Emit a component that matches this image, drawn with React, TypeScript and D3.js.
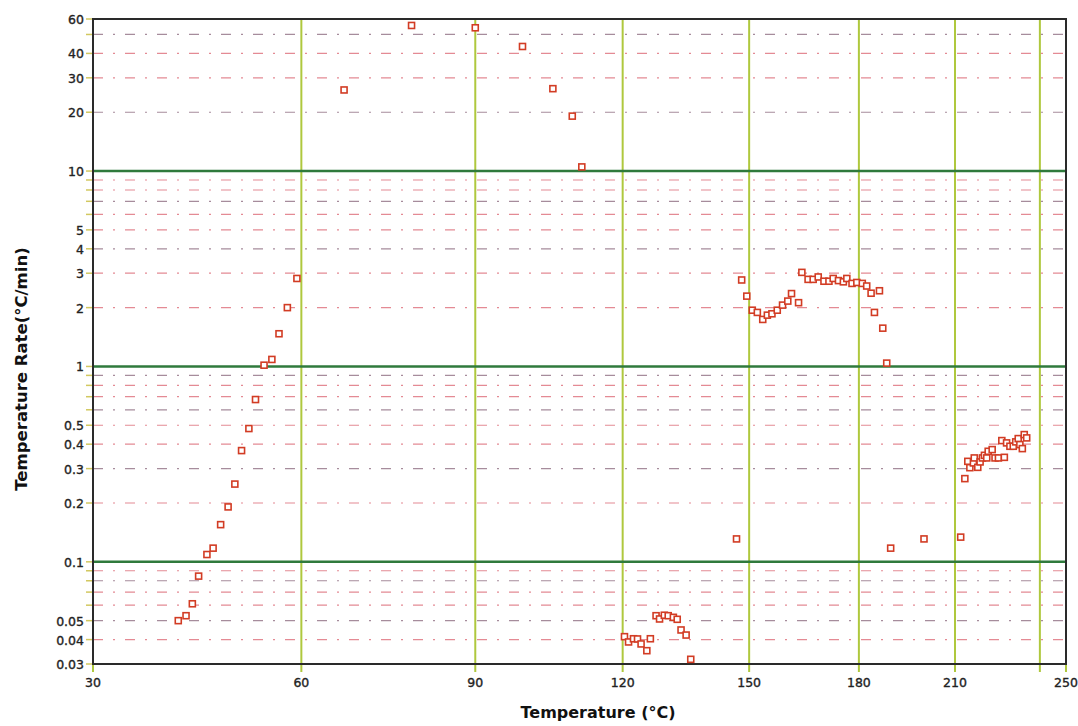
import React, { useEffect, useRef } from "react";
import * as d3 from "d3";

// temperature (°C) of each reading
const temps = [
  41.6, 42.7, 43.6, 44.5, 45.7, 46.6, 47.7, 48.8, 49.8, 50.8, 51.9, 52.9, 54.2, 55.4, 56.5, 57.8, 59.3,
  66.9, 78.4, 90.0, 99.1, 105.2, 109.2, 111.2,
  120.4, 121.3, 122.4, 123.3, 124.1, 125.4, 126.2, 127.5, 128.3, 129.4, 130.3, 131.5, 132.4, 133.3, 134.5, 135.6,
  146.8,
  148.1, 149.4, 150.8, 152.1, 153.5, 154.7, 155.9, 157.3, 158.7, 160.1, 161.1, 163.0, 163.9, 165.6, 167.0,
  168.4, 170.0, 171.4, 172.6, 174.1, 175.5, 176.5, 178.0, 179.4, 181.0, 182.3, 183.6, 184.6, 186.1, 187.1, 188.3,
  189.5, 199.9, 211.9,
  213.3, 214.3, 215.0, 216.2, 216.5, 217.7, 218.5, 219.3, 220.0, 220.8, 221.3, 222.7, 223.7, 224.9, 227.0,
  226.1, 227.8, 229.0, 230.2, 231.1, 232.0, 232.6, 233.5, 234.2, 235.1,
];

// temperature rate (°C/min) of each reading
const rates = [
  0.05, 0.053, 0.061, 0.0845, 0.109, 0.1175, 0.155, 0.191, 0.25, 0.371, 0.481, 0.677, 1.015, 1.086, 1.47, 2.0, 2.82,
  26.0, 55.6, 54.1, 43.4, 26.4, 19.1, 10.5,
  0.0414, 0.0389, 0.0404, 0.0403, 0.038, 0.0351, 0.0404, 0.053, 0.051, 0.0533, 0.053, 0.052, 0.0508, 0.0448, 0.0422, 0.0317,
  0.131,
  2.77, 2.29, 1.94, 1.89, 1.74, 1.83, 1.86, 1.94, 2.06, 2.16, 2.36, 2.12, 3.03, 2.79, 2.79,
  2.87, 2.73, 2.73, 2.82, 2.75, 2.71, 2.82, 2.66, 2.69, 2.66, 2.58, 2.37, 1.89, 2.44, 1.57, 1.04,
  0.1175, 0.131, 0.1338,
  0.2666, 0.3268, 0.3033, 0.3208, 0.3402, 0.3045, 0.3245, 0.3402, 0.3508, 0.3402, 0.3679, 0.3754, 0.3402, 0.3402, 0.3426,
  0.4174, 0.4062, 0.3903, 0.3903, 0.4111, 0.4273, 0.3981, 0.3797, 0.4479, 0.4308,
];

const xTicks = [30, 60, 90, 120, 150, 180, 210, 240, 250];
const xLabels = [30, 60, 90, 120, 150, 180, 210, 250];
const yMajor = [0.1, 1, 10];
const yMinor = [
  0.04, 0.05, 0.06, 0.07, 0.08, 0.09,
  0.2, 0.3, 0.4, 0.5, 0.6, 0.7, 0.8, 0.9,
  2, 3, 4, 5, 6, 7, 8, 9,
  20, 30, 40, 50,
];
const yLabels = [0.03, 0.04, 0.05, 0.1, 0.2, 0.3, 0.4, 0.5, 1, 2, 3, 4, 5, 10, 20, 30, 40, 60];

const App = () => {
  const ref = useRef<SVGSVGElement>(null);

  useEffect(() => {
    const width = 1078;
    const height = 726;
    const left = 93, right = 1066, top = 19, bottom = 664;

    const svg = d3.select(ref.current);
    svg.selectAll("*").remove();

    // x axis runs on reciprocal absolute temperature
    const inv = d3.scaleLinear()
      .domain([1 / (30 + 273.15), 1 / (250 + 273.15)])
      .range([left, right]);
    const x = (t: number) => inv(1 / (t + 273.15));

    const y = d3.scaleLog().domain([0.03, 60]).range([bottom, top]);

    svg.append("rect").attr("width", width).attr("height", height).attr("fill", "#fff");

    // minor horizontal grid (dash-dot)
    svg.append("g")
      .selectAll("line")
      .data(yMinor)
      .enter()
      .append("line")
      .attr("x1", left)
      .attr("x2", right)
      .attr("y1", (d) => y(d))
      .attr("y2", (d) => y(d))
      .attr("stroke", (d, i) => (i % 3 === 1 ? "#a68c9c" : "#e48a94"))
      .attr("stroke-width", 1.2)
      .attr("stroke-dasharray", "10,10,2,10");

    // y ticks
    svg.append("g")
      .selectAll("line")
      .data(yMinor.concat(yMajor, [0.03, 60]))
      .enter()
      .append("line")
      .attr("x1", left - 7)
      .attr("x2", left)
      .attr("y1", (d) => y(d))
      .attr("y2", (d) => y(d))
      .attr("stroke", "#d2c860")
      .attr("stroke-width", 1.5);

    // vertical grid + x ticks
    svg.append("g")
      .selectAll("line")
      .data(xTicks)
      .enter()
      .append("line")
      .attr("x1", (d) => x(d))
      .attr("x2", (d) => x(d))
      .attr("y1", top)
      .attr("y2", bottom + 8)
      .attr("stroke", "#afc83e")
      .attr("stroke-width", 2);

    // major horizontal grid
    svg.append("g")
      .selectAll("line")
      .data(yMajor)
      .enter()
      .append("line")
      .attr("x1", left)
      .attr("x2", right)
      .attr("y1", (d) => y(d))
      .attr("y2", (d) => y(d))
      .attr("stroke", "#2f7a3c")
      .attr("stroke-width", 2.5);

    // frame
    svg.append("rect")
      .attr("x", left)
      .attr("y", top)
      .attr("width", right - left)
      .attr("height", bottom - top)
      .attr("fill", "none")
      .attr("stroke", "#2a2a2a")
      .attr("stroke-width", 2);

    // tick labels
    svg.append("g")
      .selectAll("text")
      .data(yLabels)
      .enter()
      .append("text")
      .attr("x", left - 9)
      .attr("y", (d) => y(d) + 5)
      .attr("text-anchor", "end")
      .text((d) => String(d))
      .style("font-family", "'DejaVu Sans', sans-serif")
      .style("font-size", "12.5px")
      .style("fill", "#222")
      .style("stroke", "#222")
      .style("stroke-width", "0.35px");

    svg.append("g")
      .selectAll("text")
      .data(xLabels)
      .enter()
      .append("text")
      .attr("x", (d) => x(d))
      .attr("y", bottom + 23)
      .attr("text-anchor", "middle")
      .text((d) => String(d))
      .style("font-family", "'DejaVu Sans', sans-serif")
      .style("font-size", "12.5px")
      .style("fill", "#222")
      .style("stroke", "#222")
      .style("stroke-width", "0.35px");

    // axis titles
    svg.append("text")
      .attr("x", 598)
      .attr("y", 718)
      .attr("text-anchor", "middle")
      .text("Temperature (°C)")
      .style("font-family", "'DejaVu Sans', sans-serif")
      .style("font-weight", "bold")
      .style("font-size", "16px")
      .style("fill", "#111");

    svg.append("text")
      .attr("transform", "translate(27,369) rotate(-90)")
      .attr("text-anchor", "middle")
      .text("Temperature Rate(°C/min)")
      .style("font-family", "'DejaVu Sans', sans-serif")
      .style("font-weight", "bold")
      .style("font-size", "16.5px")
      .style("fill", "#111");

    // points
    const pts = temps.map((t, i) => ({ t, r: rates[i] }));
    svg.append("g")
      .selectAll("rect")
      .data(pts)
      .enter()
      .append("rect")
      .attr("x", (d) => x(d.t) - 3)
      .attr("y", (d) => y(d.r) - 3)
      .attr("width", 6)
      .attr("height", 6)
      .attr("fill", "#fff")
      .attr("stroke", "#d23c24")
      .attr("stroke-width", 1.6);
  }, []);

  return (
    <svg
      ref={ref}
      width={1078}
      height={726}
      style={{ position: "absolute", left: 0, top: 0, display: "block" }}
    />
  );
};

export default App;
